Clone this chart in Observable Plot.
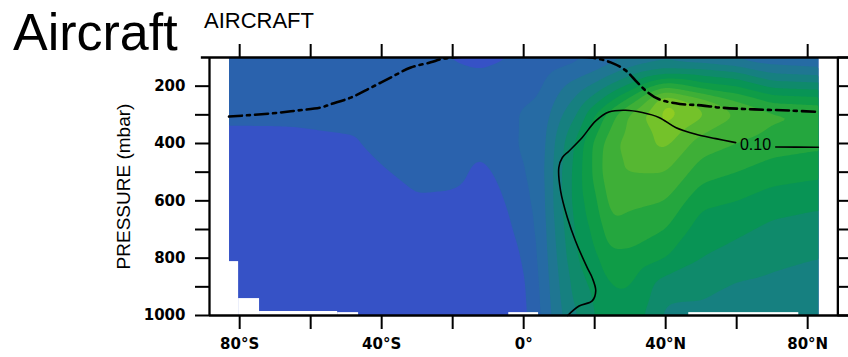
<!DOCTYPE html>
<html><head><meta charset="utf-8">
<script src="https://cdn.jsdelivr.net/npm/d3@7"></script>
<script src="https://cdn.jsdelivr.net/npm/@observablehq/plot@0.6"></script>
<style>
html,body{margin:0;padding:0;background:#fff;}
#wrap{position:relative;width:848px;height:357px;overflow:hidden;}
#chart{position:absolute;left:0;top:0;}
#t1{position:absolute;left:13px;top:6px;font:52px/52px "Liberation Sans",Arial,sans-serif;color:#000;white-space:nowrap;}
#t2{position:absolute;left:204px;top:10px;font:22px/22px "Liberation Sans",Arial,sans-serif;color:#000;white-space:nowrap;}
</style></head><body>
<div id="wrap"><div id="chart"></div><div id="t1">Aircraft</div><div id="t2">AIRCRAFT</div></div>
<script>
// latitude columns (deg, negative = south) and pressure rows (mbar)
const lats = [-83, -65, -50, -40, -30, -20, -12, -5, 0, 5, 10, 15, 20, 25, 30, 40, 50, 60, 70, 83];
const levels = [100, 150, 200, 250, 300, 400, 500, 600, 700, 800, 900, 1000];
// field values (x 0.01), one row per pressure level
const values = [
  [3, 3, 3, 3, 3, 1.8, 1.2, 1.8, 2.5, 3, 3, 3.5, 4.2, 5, 6, 7, 6, 5, 4.5, 4],
  [3, 3, 3, 3, 3, 2.6, 2.2, 2.8, 3, 3.4, 4.3, 5, 6, 7.5, 9, 11, 11, 10, 7.5, 7],
  [3, 3, 3, 3, 3, 3, 3, 3.2, 3.4, 3.8, 5.5, 7, 8.5, 10.5, 12.5, 17.5, 15, 14, 11.5, 11],
  [3, 3, 3, 3, 3, 3, 3, 3.4, 3.8, 4.2, 6.5, 8.5, 11, 14, 17, 24, 21, 18, 15.5, 15],
  [2.5, 2.5, 2.8, 3, 3, 3, 3, 3.4, 4.3, 4.6, 7.5, 10, 14, 17.5, 20.5, 25, 22.5, 20, 18.5, 18],
  [1.2, 1.3, 1.6, 2.6, 3, 3, 2.4, 3, 4.5, 5, 9, 12.5, 16.5, 19.5, 21, 22.5, 19, 18, 17, 16.5],
  [1, 1, 1, 1.8, 2.6, 2.5, 1.6, 2.5, 3.9, 5.2, 9.5, 13, 16.5, 20, 20, 20, 17, 16, 15, 14.5],
  [1, 1, 1, 1.2, 1.8, 1.7, 1.2, 2, 3.4, 5, 9.5, 13, 15.5, 19, 18.5, 18, 14.5, 14, 13, 12.5],
  [1, 1, 1, 1, 1.2, 1.2, 1, 1.5, 2.8, 4.8, 9, 12.5, 14.5, 17.5, 17, 16, 13, 12.5, 11.5, 11],
  [1, 1, 1, 1, 1, 1, 1, 1.2, 2.1, 4.6, 8.5, 12, 13.5, 15.5, 15.5, 14, 12, 11, 10.5, 10],
  [1, 1, 1, 1, 1, 1, 1, 1, 1.6, 4.3, 8, 11, 12.5, 14, 14, 10.8, 10.5, 9.8, 9.5, 9.3],
  [1, 1, 1, 1, 1, 1, 1, 1, 1.4, 4, 7.5, 10, 12, 13.5, 13.5, 9.5, 9.5, 9.2, 9, 9]
];
// contour levels and colours
const contourThresholds = [0, 2, 4, 6, 8, 10, 12, 14, 16, 18, 20, 22, 24];
const bandEdges = [2, 4, 6, 8, 10, 12, 14, 16, 18, 20, 22, 24];
const bandColors = ["#3652c6", "#2a62ad", "#266ba4", "#1f7692", "#168080", "#0f8a6b", "#089455",
  "#0f9c47", "#24a63e", "#3eaf37", "#56b732", "#74c22a", "#90cc22"];
// missing data below the surface
const maskLat1 = [-83, -80.3, -74.4, -52.4, -4.2, 46.5];
const maskLat2 = [-80.3, -74.4, -52.4, -46.5, 4.2, 77.5];
const maskTop = [812, 941, 986, 990, 990, 990];
// tropopause (dash-dot)
const tropLat = [-83, -71, -63.7, -57, -54.4, -48.7, -43, -37.5, -31.8, -26.2, -23.4, -20, -15, 0, 15, 19, 24.5, 28.7, 32, 35, 38, 44, 50, 55.5, 65, 75, 83];
const tropP = [306, 295, 285, 274, 263, 240, 205, 170, 135, 117, 106, 100, 96, 94, 96, 100, 117, 145, 187, 222, 245, 262, 267, 275, 281, 285, 290];
// 0.10 contour line (null = gap for label)
const c10Lat = [12.4, 15.6, 19.3, 20.3, 19.3, 17.9, 14.6, 12.3, 10.4, 9.9, 10.9, 12.8, 16.5, 20.3, 24, 28.7, 33.4, 38.1, 42.8, 48.5, 54.1, 59.7, null, 71, 82.3, 83];
const c10P = [1000, 967, 949, 914, 868, 833, 740, 658, 565, 484, 449, 426, 379, 321, 290, 284, 292, 309, 344, 368, 383, 397, null, 412, 413, 413];
const c10Label = {lat: 65.3, p: 405, text: "0.10"};
// axes
const xMajor = [-80, -40, 0, 40, 80];
const xLabels = ["80°S", "40°S", "0°", "40°N", "80°N"];
const xMinor = [-60, -20, 20, 60];
const yMajor = [200, 400, 600, 800, 1000];
const yMinor = [300, 500, 700, 900];
const yAll = [100, 200, 300, 400, 500, 600, 700, 800, 900, 1000];
const yTitle = "PRESSURE (mbar)";

const field = [];
levels.forEach((p, i) => lats.forEach((lat, j) => field.push({lat, p, v: values[i][j]})));
const masks = maskLat1.map((a, i) => ({a, b: maskLat2[i], top: maskTop[i], bot: levels[levels.length - 1]}));
const trop = tropLat.map((lat, i) => ({lat, p: tropP[i]}));
const c10 = c10Lat.map((lat, i) => ({lat, p: c10P[i]}));

const tickFont = {fontSize: 15, fontWeight: "bold", fontFamily: "DejaVu Sans"};
const xL = -88.5, xR = 88.5, xEdge = 91.5;

const chart = Plot.plot({
  width: 848, height: 357,
  marginLeft: 209, marginRight: 0, marginTop: 57, marginBottom: 42,
  style: {background: "transparent", color: "#000"},
  x: {domain: [xL, xEdge]},
  y: {domain: [100, 1000], reverse: true},
  color: {type: "threshold", domain: bandEdges, range: bandColors},
  marks: [
    Plot.contour(field, {x: "lat", y: "p", fill: "v", thresholds: contourThresholds,
      interpolate: "barycentric", x1: -83, x2: 83, y1: 100, y2: 1000, blur: 2, stroke: "none"}),
    Plot.rect(masks, {x1: "a", x2: "b", y1: "top", y2: "bot", fill: "white"}),
    Plot.line(trop, {x: "lat", y: "p", stroke: "#000", strokeWidth: 2.6, strokeDasharray: "13,5,3,5", clip: true, curve: "catmull-rom"}),
    Plot.line(c10, {x: "lat", y: "p", stroke: "#000", strokeWidth: 1.6, curve: "catmull-rom"}),
    Plot.text([c10Label], {x: "lat", y: "p", text: "text", fontSize: 16, fontFamily: "Liberation Sans"}),
    Plot.axisX(xMajor, {anchor: "bottom", tickSize: 14, tickPadding: 9, strokeWidth: 2,
      tickFormat: d => xLabels[xMajor.indexOf(d)], label: null, ...tickFont}),
    Plot.axisX(xMinor, {anchor: "bottom", tickSize: 14, strokeWidth: 2, tickFormat: () => "", label: null}),
    Plot.axisX([...xMajor, ...xMinor], {anchor: "top", tickSize: 14, strokeWidth: 2, tickFormat: () => "", label: null}),
    Plot.axisY(yMajor, {anchor: "left", tickSize: 14, tickPadding: 10, strokeWidth: 2, tickFormat: d => String(d), label: null, ...tickFont}),
    Plot.axisY(yMinor, {anchor: "left", tickSize: 14, strokeWidth: 2, tickFormat: () => "", label: null}),
    Plot.ruleY(yAll, {x1: xR, x2: xEdge, strokeWidth: 2}),
    Plot.ruleX([xL, xR], {y1: 100, y2: 1000, strokeWidth: 2.3}),
    Plot.ruleY([100], {x1: -90.8, x2: xEdge, strokeWidth: 2.3}),
    Plot.ruleY([1000], {x1: xL, x2: xEdge, strokeWidth: 2.3}),
    Plot.text([yTitle], {frameAnchor: "left", textAnchor: "middle", rotate: -90, dx: -86, fontSize: 19, fontFamily: "Liberation Sans"})
  ]
});
document.getElementById("chart").appendChild(chart);
</script>
</body></html>
